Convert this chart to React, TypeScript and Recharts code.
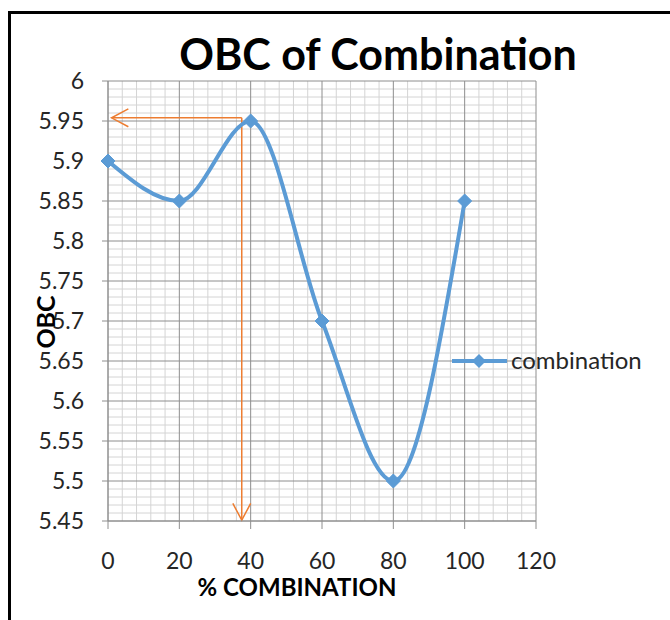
import React from "react";
import { LineChart, Line, XAxis, YAxis, ReferenceLine } from "recharts";

const combinationPct = [0, 20, 40, 60, 80, 100];
const obcValues = [5.9, 5.85, 5.95, 5.7, 5.5, 5.85];
const xTicks = [0, 20, 40, 60, 80, 100, 120];
const yTicks = [5.45, 5.5, 5.55, 5.6, 5.65, 5.7, 5.75, 5.8, 5.85, 5.9, 5.95, 6];
const seriesName = "combination";
// orange read-off guide (optimum)
const optimumPct = 37.5;
const optimumObc = 5.954;
const guideStartPct = 1;
const guideEndObc = 5.451;

const data = combinationPct.map((pct, i) => ({ pct, obc: obcValues[i] }));

// minor grid every 4 on x, every 0.01 on y
const xMinor = Array.from({ length: 31 }, (_, i) => i * 4).filter((v) => v % 20 !== 0);
const yMinor = Array.from({ length: 56 }, (_, i) => Math.round(545 + i) / 100).filter(
  (v) => Math.round(v * 100) % 5 !== 0
);

const BLUE = "#5B9BD5";
const ORANGE = "#ED7D31";
const MAJOR = "#8e8e8e";
const MINOR = "#d4d4d4";
const FONT = "Lato, 'Liberation Sans', sans-serif";

const Diamond = (props: any) => {
  const { cx, cy, index } = props;
  if (cx == null || cy == null) return <g key={`d-${index}`} />;
  const r = 7;
  return (
    <path
      key={`d-${index}`}
      d={`M${cx},${cy - r}L${cx + r},${cy}L${cx},${cy + r}L${cx - r},${cy}Z`}
      fill={BLUE}
      stroke={BLUE}
    />
  );
};

const ArrowLine = (props: any) => {
  const { x1, y1, x2, y2 } = props;
  const ang = Math.atan2(y1 - y2, x1 - x2);
  const len = 19;
  const spread = (28 * Math.PI) / 180;
  const ax = x2 + len * Math.cos(ang + spread);
  const ay = y2 + len * Math.sin(ang + spread);
  const bx = x2 + len * Math.cos(ang - spread);
  const by = y2 + len * Math.sin(ang - spread);
  return (
    <g>
      <line x1={x1} y1={y1} x2={x2} y2={y2} stroke={ORANGE} strokeWidth={1.5} />
      <polyline
        points={`${ax},${ay} ${x2},${y2} ${bx},${by}`}
        fill="none"
        stroke={ORANGE}
        strokeWidth={1.5}
      />
    </g>
  );
};

export default function App() {
  return (
    <div
      style={{
        position: "absolute",
        left: 0,
        top: 0,
        width: 670,
        height: 620,
        overflow: "hidden",
        background: "#fff",
      }}
    >
      <div
        style={{
          position: "absolute",
          left: 8,
          top: 11,
          width: 720,
          height: 720,
          border: "3px solid #000",
          boxSizing: "border-box",
        }}
      />
      <div style={{ position: "absolute", left: 0, top: 0 }}>
        <LineChart width={670} height={620} data={data} margin={{ top: 81, right: 134, bottom: 39, left: 0 }}>
          {xMinor.map((v) => (
            <ReferenceLine key={`xm${v}`} x={v} stroke={MINOR} strokeWidth={1} />
          ))}
          {yMinor.map((v) => (
            <ReferenceLine key={`ym${v}`} y={v} stroke={MINOR} strokeWidth={1} />
          ))}
          {xTicks.map((v) => (
            <ReferenceLine key={`xM${v}`} x={v} stroke={MAJOR} strokeWidth={1} />
          ))}
          {yTicks.map((v) => (
            <ReferenceLine key={`yM${v}`} y={v} stroke={MAJOR} strokeWidth={1} />
          ))}
          <XAxis
            dataKey="pct"
            type="number"
            domain={[0, 120]}
            ticks={xTicks}
            height={60}
            stroke={MAJOR}
            tickSize={8}
            tickMargin={24}
            tick={{ fill: "#262626", fontSize: 23, fontFamily: FONT }}
          />
          <YAxis
            type="number"
            domain={[5.45, 6]}
            ticks={yTicks}
            width={108}
            stroke={MAJOR}
            tickSize={6}
            tickMargin={18}
            tick={{ fill: "#262626", fontSize: 23, fontFamily: FONT }}
          />
          <ReferenceLine
            segment={[
              { x: optimumPct, y: optimumObc },
              { x: guideStartPct, y: optimumObc },
            ]}
            shape={ArrowLine}
          />
          <ReferenceLine
            segment={[
              { x: optimumPct, y: optimumObc },
              { x: optimumPct, y: guideEndObc },
            ]}
            shape={ArrowLine}
          />
          <Line
            type="monotone"
            dataKey="obc"
            name={seriesName}
            stroke={BLUE}
            strokeWidth={4}
            dot={Diamond}
            activeDot={false}
            isAnimationActive={false}
          />
        </LineChart>
      </div>
      <svg
        width={670}
        height={620}
        style={{ position: "absolute", left: 0, top: 0, pointerEvents: "none" }}
      >
        <text x={378} y={70} textAnchor="middle" fontFamily={FONT} fontWeight={700} fontSize={43} fill="#000">
          OBC of Combination
        </text>
        <text x={297} y={596} textAnchor="middle" fontFamily={FONT} fontWeight={700} fontSize={24} fill="#000">
          % COMBINATION
        </text>
        <text
          x={55}
          y={322}
          textAnchor="middle"
          fontFamily={FONT}
          fontWeight={700}
          fontSize={25}
          fill="#000"
          transform="rotate(-90 55 322)"
        >
          OBC
        </text>
        <line x1={452} y1={361} x2={507} y2={361} stroke={BLUE} strokeWidth={4} />
        <path d="M479,354L486,361L479,368L472,361Z" fill={BLUE} />
        <text x={511} y={369} fontFamily={FONT} fontSize={24} fill="#262626">
          {seriesName}
        </text>
      </svg>
    </div>
  );
}
